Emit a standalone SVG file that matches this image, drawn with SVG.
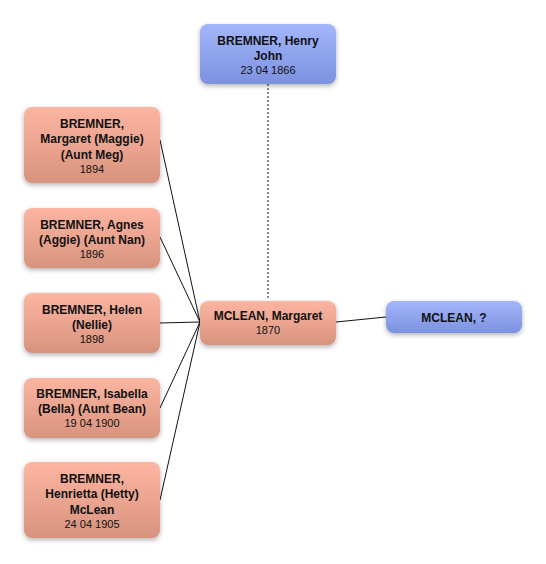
<svg xmlns="http://www.w3.org/2000/svg" width="546" height="564" viewBox="0 0 546 564">
<defs>
<linearGradient id="gs" x1="0" y1="0" x2="0" y2="1"><stop offset="0" stop-color="#fcb5a1"/><stop offset="1" stop-color="#d8937f"/></linearGradient>
<linearGradient id="gb" x1="0" y1="0" x2="0" y2="1"><stop offset="0" stop-color="#a3b6fb"/><stop offset="1" stop-color="#7c91e0"/></linearGradient>
<filter id="sh" x="-20%" y="-20%" width="140%" height="150%"><feDropShadow dx="0" dy="2" stdDeviation="2.5" flood-color="#000" flood-opacity="0.3"/></filter>
</defs>
<style>
.s{fill:url(#gs);filter:url(#sh)}
.b{fill:url(#gb);filter:url(#sh)}
text{font-family:"Liberation Sans",Arial,sans-serif;text-anchor:middle;fill:#111}
.n{font-size:12px;font-weight:bold}
.d{font-size:11px}
.c{stroke:#111;stroke-width:1;fill:none}
</style>
<rect width="546" height="564" fill="#fff"/>
<g id="connectors">
<line class="c" x1="268" y1="84" x2="268" y2="300" stroke-dasharray="2,2" stroke="#555"/>
<line class="c" x1="160" y1="140" x2="200" y2="322"/>
<line class="c" x1="160" y1="237" x2="200" y2="322"/>
<line class="c" x1="160" y1="323" x2="200" y2="322"/>
<line class="c" x1="160" y1="408" x2="200" y2="322"/>
<line class="c" x1="160" y1="500" x2="200" y2="322"/>
<line class="c" x1="336" y1="322" x2="386" y2="317"/>
</g>
<g id="henry">
<rect class="b" x="200" y="24" width="136" height="60" rx="8"/>
<text class="n" x="268" y="45">BREMNER, Henry</text>
<text class="n" x="268" y="60">John</text>
<text class="d" x="268" y="74">23 04 1866</text>
</g>
<g id="maggie">
<rect class="s" x="24" y="107" width="136" height="76" rx="8"/>
<text class="n" x="92" y="128">BREMNER,</text>
<text class="n" x="92" y="143">Margaret (Maggie)</text>
<text class="n" x="92" y="159">(Aunt Meg)</text>
<text class="d" x="92" y="173">1894</text>
</g>
<g id="agnes">
<rect class="s" x="24" y="208" width="136" height="60" rx="8"/>
<text class="n" x="92" y="229">BREMNER, Agnes</text>
<text class="n" x="92" y="244">(Aggie) (Aunt Nan)</text>
<text class="d" x="92" y="258">1896</text>
</g>
<g id="helen">
<rect class="s" x="24" y="293" width="136" height="60" rx="8"/>
<text class="n" x="92" y="314">BREMNER, Helen</text>
<text class="n" x="92" y="329">(Nellie)</text>
<text class="d" x="92" y="343">1898</text>
</g>
<g id="isabella">
<rect class="s" x="24" y="378" width="136" height="60" rx="8"/>
<text class="n" x="92" y="398">BREMNER, Isabella</text>
<text class="n" x="92" y="413">(Bella) (Aunt Bean)</text>
<text class="d" x="92" y="427">19 04 1900</text>
</g>
<g id="henrietta">
<rect class="s" x="24" y="462" width="136" height="76" rx="8"/>
<text class="n" x="92" y="483">BREMNER,</text>
<text class="n" x="92" y="498">Henrietta (Hetty)</text>
<text class="n" x="92" y="514">McLean</text>
<text class="d" x="92" y="528">24 04 1905</text>
</g>
<g id="margaret">
<rect class="s" x="200" y="301" width="136" height="44" rx="8"/>
<text class="n" x="268" y="320">MCLEAN, Margaret</text>
<text class="d" x="268" y="334">1870</text>
</g>
<g id="mclean">
<rect class="b" x="386" y="301" width="136" height="32" rx="8"/>
<text class="n" x="454" y="322">MCLEAN, ?</text>
</g>
</svg>
